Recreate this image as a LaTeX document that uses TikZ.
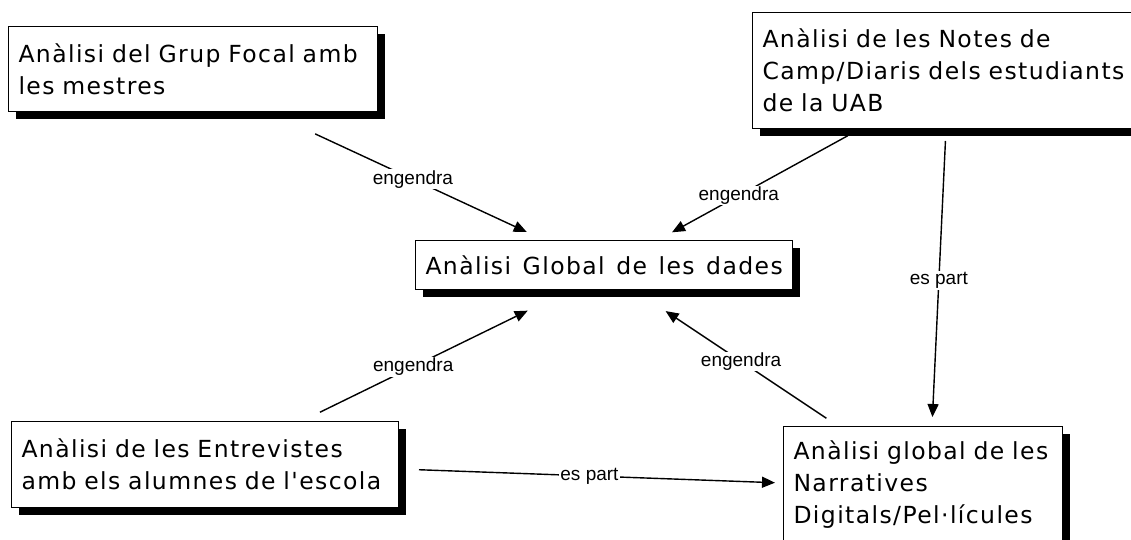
\documentclass[tikz,border=0pt]{standalone}
\usepackage{fontspec}
\newfontfamily\boxfont{DejaVu Sans}[LetterSpace=6, WordSpace=1.3]
\newfontfamily\lblfont{Liberation Sans}
\usetikzlibrary{arrows.meta,shadows}

\begin{document}
\begin{tikzpicture}[x=1pt, y=-1pt,
                box/.style = {draw, line width=1pt, fill=white, anchor=north west, align=left,
                              inner xsep=10pt, inner ysep=0pt,
                              font=\boxfont\fontsize{23.5}{32}\selectfont,
                              drop shadow={shadow xshift=7pt, shadow yshift=-7pt, fill=black, opacity=1}},
                arr/.style = {draw, line width=1.4pt, -{Triangle[length=13pt, width=11pt]}},
                lbl/.style = {fill=white, inner sep=1pt, font=\lblfont\fontsize{19}{19}\selectfont},
            ]
            \useasboundingbox (0,0) rectangle (1131,539);

            \node (grup) [box, text width=349pt, minimum height=85pt] at (8,26) {Anàlisi del Grup Focal amb\\les mestres};
            \node (notes) [box, text width=365pt, minimum height=116pt] at (752,12) {Anàlisi de les Notes de\\Camp/Diaris dels estudiants\\de la UAB};
            \node (glob) [box, minimum height=49pt] at (415,240) {Anàlisi Global de les dades};
            \node (entr) [box, text width=367pt, minimum height=86pt] at (11,421) {Anàlisi de les Entrevistes\\amb els alumnes de l'escola};
            \node (narr) [box, text width=259pt, minimum height=116pt] at (783,426) {Anàlisi global de les\\Narratives\\Digitals/Pel·lícules};

            % engendra
            \path[arr, shorten <=52pt, shorten >=19pt] ([xshift=260pt]grup.south west) -- node[lbl, pos=0.525] {engendra} ([xshift=129pt]glob.north west);
            \path[arr, shorten <=14pt, shorten >=16pt] ([xshift=108pt]notes.south west) -- node[lbl, pos=0.6] {engendra} ([xshift=243pt]glob.north west);
            \path[arr, shorten <=20pt, shorten >=47pt] ([xshift=291pt]entr.north west) -- node[lbl, pos=0.415] {engendra} ([xshift=155pt]glob.south west);
            \path[arr, shorten <=14pt, shorten >=38pt] ([xshift=55pt]narr.north west) -- node[lbl, pos=0.475] {engendra} ([xshift=219pt]glob.south west);

            % es part
            \path[arr, shorten <=12pt, shorten >=9pt] ([xshift=194pt]notes.south west) -- node[lbl, pos=0.51] {es part} ([xshift=149pt]narr.north west);
            \path[arr, shorten <=20pt, shorten >=8pt] ([yshift=-48pt]entr.north east) -- node[lbl, pos=0.496] {es part} ([yshift=-57pt]narr.north west);
        \end{tikzpicture}
\end{document}
